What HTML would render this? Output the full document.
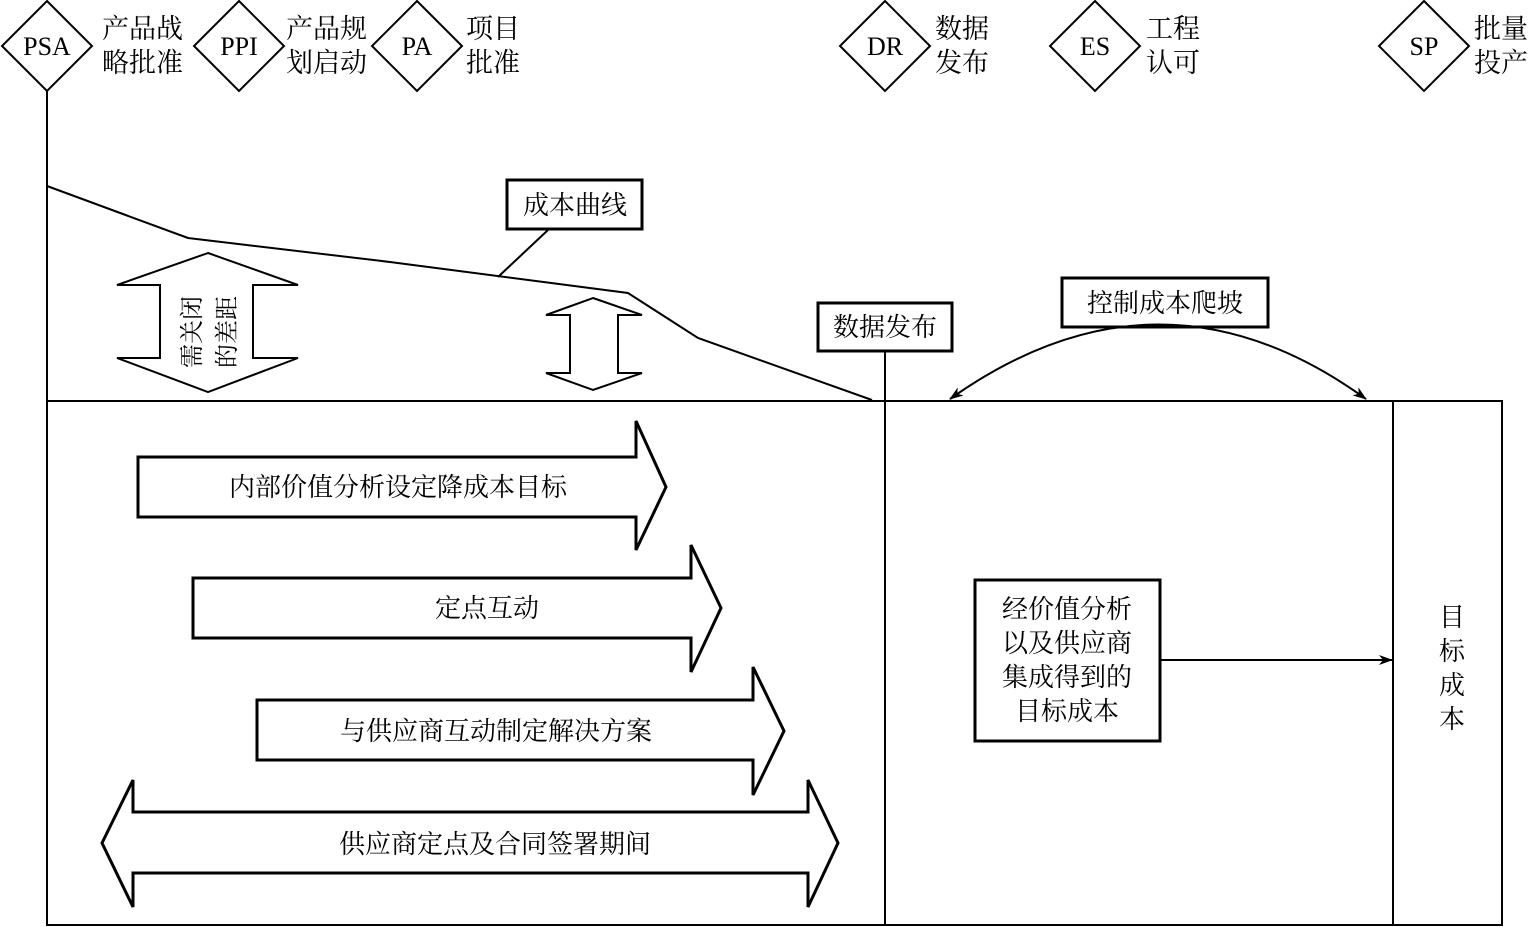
<!DOCTYPE html>
<html><head><meta charset="utf-8"><style>
html,body{margin:0;padding:0;background:#fff;}
svg{display:block;}
text{font-family:"Liberation Serif","Noto Serif CJK SC","Noto Sans CJK SC",serif;fill:#000;}
</style></head><body>
<svg width="1529" height="927" viewBox="0 0 1529 927" xmlns="http://www.w3.org/2000/svg">
<defs>
<marker id="ah" markerWidth="14" markerHeight="10" refX="13" refY="5" orient="auto" markerUnits="userSpaceOnUse">
<path d="M0,0 L14,5 L0,10 L4,5 Z" fill="#000"/></marker>
<marker id="ahs" markerWidth="14" markerHeight="10" refX="1" refY="5" orient="auto" markerUnits="userSpaceOnUse">
<path d="M14,0 L0,5 L14,10 L10,5 Z" fill="#000"/></marker>
</defs>
<g fill="none" stroke="#000" stroke-width="2">
<!-- diamonds -->
<path d="M47,1 L92,46 L47,91 L2,46 Z"/>
<path d="M239,1 L284,46 L239,91 L194,46 Z"/>
<path d="M417,1 L462,46 L417,91 L372,46 Z"/>
<path d="M885,1 L930,46 L885,91 L840,46 Z"/>
<path d="M1095,1 L1140,46 L1095,91 L1050,46 Z"/>
<path d="M1424,1 L1469,46 L1424,91 L1379,46 Z"/>
<!-- frame -->
<line x1="47" y1="91" x2="47" y2="925"/>
<rect x="47" y="401" width="1455" height="524"/>
<line x1="885" y1="351" x2="885" y2="925"/>
<line x1="1393" y1="401" x2="1393" y2="925"/>
<!-- cost curve -->
<polyline points="47,186 188,238 390,262 628,293 698,338 872,400"/>
<line x1="548" y1="230" x2="498" y2="277"/>
<rect x="507" y="180" width="135" height="49" stroke-width="3"/>
<rect x="818" y="303" width="134" height="48" stroke-width="3"/>
<rect x="1062" y="278" width="206" height="49" stroke-width="3"/>
<!-- arc -->
<path d="M950,399 Q1160,250 1366,399" marker-start="url(#ahs)" marker-end="url(#ah)"/>
<!-- vertical double arrows -->
<path d="M208,253 L298,285 L253,285 L253,358 L298,358 L208,392 L117,358 L160,358 L160,285 L117,285 Z"/>
<path d="M593,298 L642,315 L618,315 L618,373 L642,373 L593,390 L546,373 L570,373 L570,315 L546,315 Z"/>
<!-- horizontal arrows -->
<path d="M138,457 L636,457 L636,421 L666,487 L636,550 L636,517 L138,517 Z" stroke-width="3"/>
<path d="M193,578 L691,578 L691,545 L721,608 L691,672 L691,638 L193,638 Z" stroke-width="3"/>
<path d="M257,700 L753,700 L753,667 L784,731 L753,795 L753,760 L257,760 Z" stroke-width="3"/>
<path d="M102,843 L133,780 L133,812 L808,812 L808,780 L838,843 L808,907 L808,873 L133,873 L133,907 Z" stroke-width="3"/>
<!-- box right -->
<rect x="975" y="580" width="185" height="161" stroke-width="3"/>
<line x1="1160" y1="660" x2="1392" y2="660" marker-end="url(#ah)"/>
</g>
<g font-size="26" text-anchor="middle">
<text x="47" y="55">PSA</text>
<text x="239" y="55">PPI</text>
<text x="417" y="55">PA</text>
<text x="885" y="55">DR</text>
<text x="1095" y="55">ES</text>
<text x="1424" y="55">SP</text>
</g>
<g font-size="27">
<text x="102" y="38">产品战</text><text x="102" y="72">略批准</text>
<text x="286" y="38">产品规</text><text x="286" y="72">划启动</text>
<text x="466" y="38">项目</text><text x="466" y="72">批准</text>
<text x="935" y="38">数据</text><text x="935" y="72">发布</text>
<text x="1146" y="38">工程</text><text x="1146" y="72">认可</text>
<text x="1474" y="38">批量</text><text x="1474" y="72">投产</text>
</g>
<g font-size="26" text-anchor="middle">
<text x="575" y="214">成本曲线</text>
<text x="885" y="336">数据发布</text>
<text x="1165" y="312">控制成本爬坡</text>
<text x="398" y="496">内部价值分析设定降成本目标</text>
<text x="487" y="617">定点互动</text>
<text x="496" y="740">与供应商互动制定解决方案</text>
<text x="495" y="853">供应商定点及合同签署期间</text>
<text x="1067" y="618">经价值分析</text>
<text x="1067" y="652">以及供应商</text>
<text x="1067" y="686">集成得到的</text>
<text x="1067" y="720">目标成本</text>
<text x="1452" y="626">目</text>
<text x="1452" y="660">标</text>
<text x="1452" y="694">成</text>
<text x="1452" y="728">本</text>
</g>
<g font-size="24">
<text transform="translate(200,368) rotate(-90)">需关闭</text>
<text transform="translate(235,368) rotate(-90)">的差距</text>
</g>
</svg>
</body></html>
